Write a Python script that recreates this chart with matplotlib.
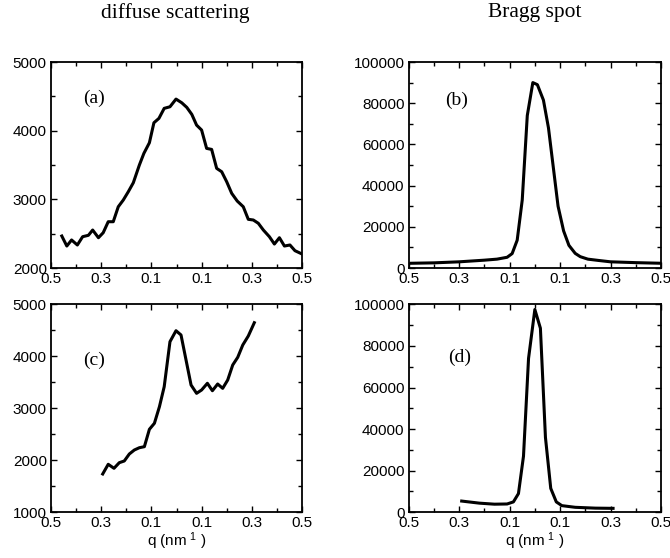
import matplotlib
matplotlib.use("Agg")
import matplotlib.pyplot as plt
import numpy as np

plt.rcParams['font.family'] = ['Liberation Sans', 'DejaVu Sans']
plt.rcParams['mathtext.default'] = 'regular'

# (a) diffuse scattering, top
qa = [-0.457, -0.437, -0.418, -0.395, -0.374, -0.351, -0.334, -0.311, -0.292, -0.272,
      -0.252, -0.232, -0.212, -0.192, -0.172, -0.148, -0.130, -0.108, -0.090, -0.070,
      -0.049, -0.026, -0.002, 0.021, 0.041, 0.061, 0.080, 0.100, 0.120, 0.140,
      0.160, 0.180, 0.200, 0.220, 0.242, 0.266, 0.286, 0.306, 0.326, 0.346,
      0.370, 0.390, 0.410, 0.430, 0.452, 0.472, 0.500]
Ia = [2466, 2320, 2408, 2335, 2456, 2476, 2553, 2441, 2514, 2674,
      2674, 2892, 2990, 3111, 3242, 3499, 3669, 3824, 4115, 4179,
      4325, 4348, 4460, 4406, 4339, 4237, 4081, 4009, 3742, 3727,
      3451, 3402, 3256, 3087, 2975, 2892, 2709, 2699, 2651, 2553,
      2456, 2349, 2441, 2320, 2335, 2252, 2204]

# (b) Bragg spot, top
qb = [-0.49, -0.40, -0.30, -0.20, -0.15, -0.11, -0.09, -0.07, -0.05, -0.03,
      -0.008, 0.01, 0.034, 0.054, 0.074, 0.092, 0.114, 0.135, 0.16, 0.18,
      0.21, 0.25, 0.30, 0.40, 0.50]
Ib = [2300, 2500, 3000, 3800, 4300, 5200, 7000, 13500, 33000, 74000,
      90000, 89000, 81500, 68000, 48000, 30000, 18000, 11000, 7100, 5500,
      4300, 3700, 3000, 2600, 2300]

# (c) diffuse scattering, bottom
qc = [-0.294, -0.272, -0.249, -0.228, -0.208, -0.188, -0.168, -0.148, -0.128, -0.108,
      -0.088, -0.068, -0.049, -0.026, -0.002, 0.018, 0.038, 0.058, 0.080, 0.100,
      0.123, 0.143, 0.164, 0.184, 0.204, 0.224, 0.244, 0.264, 0.286, 0.310]
Ic = [1737, 1923, 1846, 1954, 1987, 2121, 2198, 2242, 2262, 2596,
      2712, 3031, 3415, 4281, 4492, 4410, 3929, 3448, 3288, 3352,
      3481, 3338, 3467, 3384, 3544, 3833, 3981, 4217, 4390, 4646]

# (d) Bragg spot, bottom
qd = [-0.29, -0.22, -0.16, -0.11, -0.085, -0.065, -0.045, -0.025, 0.0, 0.022,
      0.042, 0.063, 0.085, 0.107, 0.16, 0.24, 0.31]
Id = [5400, 4400, 3900, 4000, 5000, 9000, 27000, 74000, 97500, 88500,
      36000, 11500, 5000, 3200, 2400, 2000, 1900]

xticks = [-0.5, -0.3, -0.1, 0.1, 0.3, 0.5]
xticklabels = ['0.5', '0.3', '0.1', '0.1', '0.3', '0.5']

fig = plt.figure(figsize=(6.7, 5.58), dpi=100)

W, H = 670.0, 558.0
def box(l, t, r, b):
    return [l / W, 1 - b / H, (r - l) / W, (b - t) / H]

panels = [
    (box(51, 62, 302, 268), qa, Ia, (2000, 5000), 1000, 500, '(a)', (0.17, 0.825)),
    (box(408.7, 62, 661, 268), qb, Ib, (0, 100000), 20000, 10000, '(b)', (0.19, 0.815)),
    (box(51, 304.3, 302, 512.3), qc, Ic, (1000, 5000), 1000, 500, '(c)', (0.17, 0.73)),
    (box(408.7, 304.3, 661, 512.3), qd, Id, (0, 100000), 20000, 10000, '(d)', (0.2, 0.745)),
]

axes = []
for rect, q, I, ylim, major, minor, lab, pos in panels:
    ax = fig.add_axes(rect)
    ax.plot(q, I, color='black', lw=2.2)
    ax.set_xlim(-0.5, 0.5)
    ax.set_ylim(*ylim)
    ax.set_xticks(xticks)
    ax.set_xticklabels(xticklabels)
    ax.set_xticks([-0.4, -0.2, 0.0, 0.2, 0.4], minor=True)
    ax.set_yticks(np.arange(ylim[0], ylim[1] + 1, major))
    ax.set_yticks(np.arange(ylim[0], ylim[1] + 1, minor), minor=True)
    ax.tick_params(which='both', direction='in', top=True, right=True,
                   labelsize=11, width=1.0, pad=3, colors='black')
    ax.tick_params(which='major', length=4)
    ax.tick_params(which='minor', length=3)
    for s in ax.spines.values():
        s.set_linewidth(1.3)
    ax.text(pos[0], pos[1], lab, transform=ax.transAxes, ha='center', va='center',
            fontsize=14, family=['Liberation Serif', 'DejaVu Serif'])
    axes.append(ax)

for ax in axes[2:]:
    ax.set_xlabel('q (nm$^{\\ 1}$ )', fontsize=11, labelpad=0)

fig.text(175 / W, 1 - 13 / H, 'diffuse scattering', ha='center', va='center',
         fontsize=15.5, family=['Liberation Serif', 'DejaVu Serif'])
fig.text(535 / W, 1 - 13 / H, 'Bragg spot', ha='center', va='center',
         fontsize=15.5, family=['Liberation Serif', 'DejaVu Serif'])

fig.savefig('out.png', dpi=100)
